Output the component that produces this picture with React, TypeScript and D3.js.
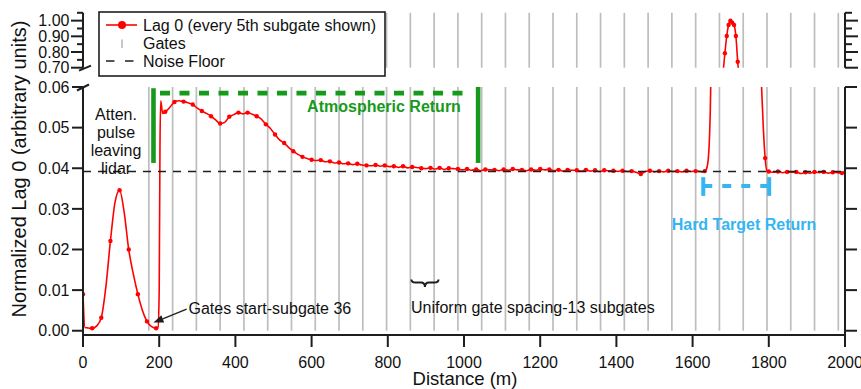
import React from "react";
import * as d3 from "d3";

// ---------- axis ticks ----------
const xTickValues = [0, 200, 400, 600, 800, 1000, 1200, 1400, 1600, 1800, 2000];
const lowerTickValues = [0, 0.01, 0.02, 0.03, 0.04, 0.05, 0.06];
const upperMajorTicks = [0.7, 0.8, 0.9, 1.0];
const upperMinorTicks = [0.75, 0.85, 0.95, 1.05];

// ---------- Lag 0 data ----------
// Lag 0 sampled every 12 m (2.5 subgates), 0..1992 m; every other sample (every 5th subgate) is marked.
// null = range covered by the finer hard-target record below.
const SAMPLE_STEP_M = 12;
const lag0: (number | null)[] = [
  // 0 - 108 m
  0.0090, 0.0007, 0.0006, 0.0012, 0.0032, 0.0108, 0.0221, 0.0316, 0.0346, 0.0292,
  // 120 - 228 m
  0.0200, 0.0140, 0.0090, 0.0050, 0.0023, 0.0010, 0.0006, 0.0566, 0.0539, 0.0550,
  // 240 - 348 m
  0.0563, 0.0566, 0.0564, 0.0561, 0.0557, 0.0548, 0.0541, 0.0535, 0.0528, 0.0519,
  // 360 - 468 m
  0.0510, 0.0513, 0.0527, 0.0532, 0.0537, 0.0534, 0.0537, 0.0533, 0.0528, 0.0521,
  // 480 - 588 m
  0.0508, 0.0498, 0.0483, 0.0470, 0.0462, 0.0451, 0.0442, 0.0434, 0.0428, 0.0424,
  // 600 - 708 m
  0.0421, 0.0419, 0.0420, 0.0416, 0.0417, 0.0413, 0.0414, 0.0411, 0.0412, 0.0409,
  // 720 - 828 m
  0.0411, 0.0408, 0.0407, 0.0406, 0.0408, 0.0405, 0.0407, 0.0404, 0.0405, 0.0402,
  // 840 - 948 m
  0.0405, 0.0401, 0.0403, 0.0402, 0.0400, 0.0399, 0.0401, 0.0398, 0.0401, 0.0397,
  // 960 - 1068 m
  0.0400, 0.0399, 0.0398, 0.0396, 0.0398, 0.0395, 0.0397, 0.0394, 0.0397, 0.0396,
  // 1080 - 1188 m
  0.0396, 0.0394, 0.0397, 0.0395, 0.0398, 0.0396, 0.0396, 0.0394, 0.0397, 0.0395,
  // 1200 - 1308 m
  0.0398, 0.0396, 0.0397, 0.0394, 0.0396, 0.0393, 0.0396, 0.0395, 0.0395, 0.0393,
  // 1320 - 1428 m
  0.0396, 0.0393, 0.0395, 0.0392, 0.0395, 0.0394, 0.0394, 0.0392, 0.0394, 0.0392,
  // 1440 - 1548 m
  0.0393, 0.0390, 0.0386, 0.0392, 0.0394, 0.0391, 0.0393, 0.0391, 0.0394, 0.0392,
  // 1560 - 1668 m
  0.0393, 0.0391, 0.0394, 0.0392, 0.0393, 0.0392, null, null, null, null,
  // 1680 - 1788 m
  null, null, null, null, null, null, null, null, null, null,
  // 1800 - 1908 m
  0.0392, 0.0390, 0.0392, 0.0389, 0.0391, 0.0390, 0.0391, 0.0387, 0.0390, 0.0388,
  // 1920 - 1992 m
  0.0391, 0.0389, 0.0391, 0.0388, 0.0390, 0.0389, 0.0388,
];

// extra samples where the signal changes faster than the 12 m grid
const detailDist = [5, 197, 200, 202, 209, 1998];
const detailLag0 = [0.0008, 0.0008, 0.0100, 0.0450, 0.0535, 0.0392];

// hard-target return, every subgate (4.8 m)
const targetDist = [
  1627.2, 1632.0, 1636.8, 1641.6, 1646.4, 1651.2, 1656.0, 1660.8, 1665.6, 1670.4,
  1675.2, 1680.0, 1684.8, 1689.6, 1694.4, 1699.2, 1704.0, 1708.8, 1713.6, 1718.4,
  1723.2, 1728.0, 1732.8, 1737.6, 1742.4, 1747.2, 1752.0, 1756.8, 1761.6, 1766.4,
  1771.2, 1776.0, 1780.8, 1785.6, 1790.4, 1795.2,
];
const targetLag0 = [
  0.0391, 0.0393, 0.0399, 0.0428, 0.0540, 0.080, 0.13, 0.20, 0.29, 0.40,
  0.53, 0.67, 0.792, 0.902, 0.972, 1.0, 0.987, 0.972, 0.902, 0.738,
  0.60, 0.46, 0.36, 0.29, 0.23, 0.19, 0.16, 0.13, 0.11, 0.095,
  0.082, 0.071, 0.0605, 0.050, 0.0425, 0.0392,
];
const targetMarked = [
  0, 1, 0, 0, 0, 0, 0, 0, 0, 0,
  0, 0, 1, 1, 1, 1, 1, 1, 1, 1,
  0, 0, 0, 0, 0, 0, 0, 0, 0, 0,
  0, 0, 0, 0, 1, 0,
];

// range gates (m)
const gateDist = [
  172.8, 235.2, 297.6, 360.0, 422.4, 484.8, 547.2, 609.6, 672.0, 734.4,
  796.8, 859.2, 921.6, 984.0, 1046.4, 1108.8, 1171.2, 1233.6, 1296.0, 1358.4,
  1420.8, 1483.2, 1545.6, 1608.0, 1670.4, 1732.8, 1795.2, 1857.6, 1920.0, 1982.4,
];

const noiseFloor = 0.0392;

// annotation anchors (data units)
const atmosStartM = 185;
const atmosEndM = 1037;
const atmosBarTop = 0.0597;
const atmosBarBottom = 0.0413;
const atmosDashLevel = 0.0585;
const hardStartM = 1628;
const hardEndM = 1801;
const hardBarTop = 0.0378;
const hardBarBottom = 0.0332;
const hardDashLevel = 0.0356;
const arrowTail = [272, 0.0053];
const arrowTip = [185, 0.002];
const braceFromM = 862;
const braceToM = 933;
const braceLevel = 0.0119;

const FONT = "'Liberation Sans', Arial, Helvetica, sans-serif";
const RED = "#ff0000";
const GREEN = "#17991c";
const BLUE = "#35b5f2";
const GATE = "#bdbdbd";
const AXIS = "#1e1e1e";

type P = { d: number; v: number; m: boolean };

export default function App() {
  const x = d3.scaleLinear().domain([0, 2000]).range([83, 845]);
  const yLo = d3.scaleLinear().domain([-0.00105, 0.06]).range([335, 87]);
  const yHi = d3.scaleLinear().domain([0.7, 1.05]).range([67.7, 12.8]);

  const pts: P[] = [];
  lag0.forEach((v, i) => {
    if (v !== null) pts.push({ d: i * SAMPLE_STEP_M, v, m: i % 2 === 0 });
  });
  detailDist.forEach((d, i) => pts.push({ d, v: detailLag0[i], m: false }));
  targetDist.forEach((d, i) => pts.push({ d, v: targetLag0[i], m: targetMarked[i] === 1 }));
  pts.sort((a, b) => a.d - b.d);

  const lineLo = d3.line<P>().x((p) => x(p.d)).y((p) => yLo(p.v)).curve(d3.curveMonotoneX);
  const lineHi = d3.line<P>().x((p) => x(p.d)).y((p) => yHi(p.v)).curve(d3.curveMonotoneX);

  const loMarks = pts.filter((p) => p.m && p.v <= 0.0605);
  const hiMarks = pts.filter((p) => p.m && p.v >= 0.695);

  const x0 = x(0);
  const x1 = x(2000);
  const loTop = yLo(0.06);
  const loBot = yLo(-0.00105);
  const hiTop = yHi(1.05);
  const hiBot = yHi(0.7);

  // arrow
  const tx = x(arrowTail[0]), ty = yLo(arrowTail[1]);
  const hx = x(arrowTip[0]), hy = yLo(arrowTip[1]);
  const ang = Math.atan2(hy - ty, hx - tx);
  const aL = 10, aW = 3.8;
  const bx = hx - aL * Math.cos(ang), by = hy - aL * Math.sin(ang);
  const arrowHead = `M${hx},${hy} L${bx - aW * Math.sin(ang)},${by + aW * Math.cos(ang)} L${bx + aW * Math.sin(ang)},${by - aW * Math.cos(ang)} Z`;

  // brace
  const bxa = x(braceFromM), bxb = x(braceToM), bxm = (bxa + bxb) / 2;
  const byv = yLo(braceLevel);
  const r = 4;
  const bracePath = `M${bxa},${byv - 3} Q${bxa},${byv} ${bxa + r},${byv} L${bxm - r},${byv} Q${bxm},${byv} ${bxm},${byv + 4.5} Q${bxm},${byv} ${bxm + r},${byv} L${bxb - r},${byv} Q${bxb},${byv} ${bxb},${byv - 3}`;

  const fmt2 = d3.format(".2f");

  return (
    <svg
      width={861}
      height={389}
      style={{ position: "absolute", left: 0, top: 0, background: "#fff" }}
      fontFamily={FONT}
    >
      <defs>
        <clipPath id="clipLo">
          <rect x={x0} y={loTop} width={x1 - x0} height={loBot - loTop} />
        </clipPath>
        <clipPath id="clipHi">
          <rect x={x0} y={hiTop} width={x1 - x0} height={hiBot - hiTop} />
        </clipPath>
      </defs>
      <rect x={0} y={0} width={861} height={389} fill="#fff" />

      {/* gates */}
      {gateDist.map((g, i) => (
        <g key={"g" + i}>
          <line x1={x(g)} x2={x(g)} y1={loTop} y2={yLo(0)} stroke={GATE} strokeWidth={1.7} />
          <line x1={x(g)} x2={x(g)} y1={hiTop} y2={hiBot} stroke={GATE} strokeWidth={1.7} />
        </g>
      ))}

      {/* legend */}
      <rect x={99} y={12} width={286} height={64} fill="#fff" stroke={AXIS} strokeWidth={1.6} />
      <line x1={106} x2={137} y1={25} y2={25} stroke={RED} strokeWidth={1.6} />
      <circle cx={122} cy={25} r={4} fill={RED} />
      <text x={143} y={30.5} fontSize={16} fill="#111">Lag 0 (every 5th subgate shown)</text>
      <line x1={122} x2={122} y1={39.5} y2={48} stroke={GATE} strokeWidth={1.7} />
      <text x={143} y={48.5} fontSize={16} fill="#111">Gates</text>
      <line x1={106} x2={134} y1={61} y2={61} stroke={AXIS} strokeWidth={1.5} strokeDasharray="8.5,10.5" />
      <text x={143} y={66.5} fontSize={16} fill="#111">Noise Floor</text>

      {/* atmospheric return annotation */}
      <line x1={x(atmosStartM)} x2={x(atmosStartM)} y1={yLo(atmosBarTop)} y2={yLo(atmosBarBottom)} stroke={GREEN} strokeWidth={4.6} />
      <line x1={x(atmosStartM) + 6.5} x2={x(atmosEndM) - 15} y1={yLo(atmosDashLevel)} y2={yLo(atmosDashLevel)} stroke={GREEN} strokeWidth={4.6} strokeDasharray="10,9.5" />
      <line x1={x(atmosEndM)} x2={x(atmosEndM)} y1={loTop} y2={yLo(atmosBarBottom)} stroke={GREEN} strokeWidth={4.6} />
      <text x={384} y={111.5} fontSize={16} fontWeight="bold" fill={GREEN} textAnchor="middle">Atmospheric Return</text>

      {/* hard target annotation */}
      <line x1={x(hardStartM)} x2={x(hardStartM)} y1={yLo(hardBarTop)} y2={yLo(hardBarBottom)} stroke={BLUE} strokeWidth={4} />
      <line x1={x(hardEndM)} x2={x(hardEndM)} y1={yLo(hardBarTop)} y2={yLo(hardBarBottom)} stroke={BLUE} strokeWidth={4} />
      <line x1={x(hardStartM)} x2={x(hardEndM)} y1={yLo(hardDashLevel)} y2={yLo(hardDashLevel)} stroke={BLUE} strokeWidth={4} strokeDasharray="9,10" />
      <text x={744} y={229.5} fontSize={16} fontWeight="bold" fill={BLUE} textAnchor="middle">Hard Target Return</text>

      {/* Lag 0 curve */}
      <g clipPath="url(#clipLo)">
        <path d={lineLo(pts) || ""} fill="none" stroke={RED} strokeWidth={1.6} />
        {loMarks.map((p, i) => (
          <circle key={"lm" + i} cx={x(p.d)} cy={yLo(p.v)} r={2.2} fill={RED} />
        ))}
      </g>
      <g clipPath="url(#clipHi)">
        <path d={lineHi(pts) || ""} fill="none" stroke={RED} strokeWidth={1.6} />
        {hiMarks.map((p, i) => (
          <circle key={"hm" + i} cx={x(p.d)} cy={yHi(p.v)} r={2.2} fill={RED} />
        ))}
      </g>

      {/* noise floor */}
      <line x1={x0} x2={x1} y1={yLo(noiseFloor)} y2={yLo(noiseFloor)} stroke={AXIS} strokeWidth={1.4} strokeDasharray="8,7" />

      {/* annotations text */}
      <g fontSize={16} fill="#111" textAnchor="middle">
        <text x={116} y={119.5}>Atten.</text>
        <text x={116} y={137.5}>pulse</text>
        <text x={116} y={155.5}>leaving</text>
        <text x={116} y={173.5}>lidar</text>
      </g>
      <line x1={tx} y1={ty} x2={bx} y2={by} stroke={AXIS} strokeWidth={1.3} />
      <path d={arrowHead} fill={AXIS} />
      <text x={188.5} y={313.5} fontSize={16} fill="#111">Gates start-subgate 36</text>
      <path d={bracePath} fill="none" stroke={AXIS} strokeWidth={2} />
      <text x={411} y={313} fontSize={16} fill="#111">Uniform gate spacing-13 subgates</text>

      {/* axes */}
      <g stroke={AXIS} strokeWidth={2} fill="none">
        {/* lower panel */}
        <line x1={x0} x2={x0} y1={loTop} y2={loBot + 1} />
        <line x1={x1} x2={x1} y1={loTop} y2={loBot + 1} />
        <line x1={x0 - 1} x2={x1 + 1} y1={loBot} y2={loBot} />
        {lowerTickValues.map((t) => (
          <g key={"lt" + t}>
            <line x1={x0 - 11} x2={x0} y1={yLo(t)} y2={yLo(t)} />
            <line x1={x1} x2={x1 + 12} y1={yLo(t)} y2={yLo(t)} />
          </g>
        ))}
        {xTickValues.map((t) => (
          <line key={"xt" + t} x1={x(t)} x2={x(t)} y1={loBot} y2={loBot + 12} />
        ))}
        {/* upper panel */}
        <line x1={x0} x2={x0} y1={hiTop} y2={hiBot} />
        <line x1={x1} x2={x1} y1={hiTop} y2={hiBot} />
        {upperMajorTicks.map((t) => (
          <g key={"um" + t}>
            <line x1={x0 - 12} x2={x0} y1={yHi(t)} y2={yHi(t)} />
            <line x1={x1} x2={x1 + 13} y1={yHi(t)} y2={yHi(t)} />
          </g>
        ))}
        {upperMinorTicks.map((t) => (
          <g key={"un" + t}>
            <line x1={x0 - 6} x2={x0} y1={yHi(t)} y2={yHi(t)} />
            <line x1={x1} x2={x1 + 7} y1={yHi(t)} y2={yHi(t)} />
          </g>
        ))}
        {/* axis break marks */}
        <line x1={x0 - 4} y1={hiBot + 3} x2={x0 + 8} y2={hiBot - 2} />
        <line x1={x0 - 6} y1={loTop + 3.5} x2={x0 + 6} y2={loTop - 2.5} />
      </g>

      {/* tick labels */}
      <g fontSize={16} fill="#111" textAnchor="end">
        {lowerTickValues.map((t) => (
          <text key={"ll" + t} x={69.5} y={yLo(t) + 5.7}>{fmt2(t)}</text>
        ))}
        {upperMajorTicks.map((t) => (
          <text key={"ul" + t} x={69.5} y={yHi(t) + 5.7}>{fmt2(t)}</text>
        ))}
      </g>
      <g fontSize={16} fill="#111" textAnchor="middle">
        {xTickValues.map((t) => (
          <text key={"xl" + t} x={x(t)} y={367.5}>{t}</text>
        ))}
      </g>

      {/* axis titles */}
      <text x={465} y={385} fontSize={18.5} fill="#111" textAnchor="middle">Distance (m)</text>
      <text
        transform="translate(26,169) rotate(-90)"
        fontSize={20}
        fill="#111"
        textAnchor="middle"
      >
        Normalized Lag 0 (arbitrary units)
      </text>
    </svg>
  );
}
